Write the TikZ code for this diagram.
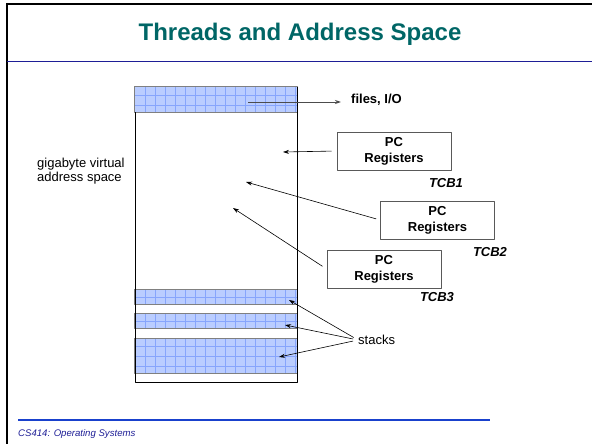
\documentclass[tikz,border=0pt]{standalone}
\usepackage{fontspec}
\setmainfont{Liberation Sans}
\usetikzlibrary{arrows.meta}
\definecolor{titleteal}{RGB}{0,102,102}
\definecolor{bandfill}{RGB}{186,205,255}
\definecolor{bandgrid}{RGB}{135,165,252}
\definecolor{navyline}{RGB}{30,30,150}
\definecolor{footblue}{RGB}{25,65,205}
\begin{document}
\begin{tikzpicture}[x=1pt,y=-1pt,>={Stealth[length=6pt,width=4pt]},line join=round,
    txt/.style={inner sep=0pt,font=\fontsize{13}{14}\selectfont},
    pcbox/.style={draw=black!65,line width=0.8pt,minimum width=114pt,minimum height=38pt,
      align=center,inner sep=0pt,font=\fontsize{13}{16}\selectfont\bfseries},
    tcb/.style={inner sep=0pt,font=\fontsize{13}{15}\selectfont\bfseries\itshape},
    ptr/.style={->,line width=0.6pt}]
    \useasboundingbox (0,0) rectangle (592,444);
    % slide frame
    \draw[line width=2.5pt] (6,4) -- (592,4);
    \draw[line width=2pt] (7,3) -- (7,444);
    \draw[navyline,line width=1pt] (7,62) -- (592,62);
    \node[font=\fontsize{24}{28}\selectfont\bfseries,text=titleteal] (title) at (300,34) {Threads and Address Space};
    % address space with its bands
    \foreach \ya/\yb in {87/112,289/304,313/328,338/373}{
      \begin{scope}
        \clip (135,\ya) rectangle (297,\yb);
        \fill[bandfill] (135,\ya) rectangle (297,\yb);
        \foreach \gx in {145,155,...,295}
          \draw[bandgrid,line width=0.5pt] (\gx,\ya) -- (\gx,\yb);
        \foreach \gy in {8,18,28}
          \draw[bandgrid,line width=0.5pt] (135,\ya+\gy) -- (297,\ya+\gy);
      \end{scope}
      \draw[gray,line width=1pt] (134.5,\ya) rectangle (297,\yb);
    }
    \draw[line width=1pt] (135,112) -- (135,382) -- (297,382) -- (297,87);
    \node[txt,align=left,anchor=north west] (gva) at (37,158) {gigabyte virtual\\address space};
    % files
    \coordinate (fio) at (248,102);
    \node[txt,font=\fontsize{13}{15}\selectfont\bfseries,anchor=west] (files) at (351,100) {files, I/O};
    \draw[ptr,black!70,line width=1pt,shorten >=10pt] (fio) -- (fio -| files.west);
    % thread control blocks
    \node[pcbox] (tcb1) at (394,151) {PC\\Registers};
    \node[tcb] (lab1) at (446,183) {TCB1};
    \node[pcbox] (tcb2) at (437.5,220) {PC\\Registers};
    \node[tcb] (lab2) at (490,252) {TCB2};
    \node[pcbox] (tcb3) at (384,269) {PC\\Registers};
    \node[tcb] (lab3) at (437,297) {TCB3};
    \coordinate (pc1) at (283,152);
    \coordinate (pc2) at (246,182);
    \coordinate (pc3) at (233,208);
    \draw[ptr,shorten <=5pt] (tcb1.west) -- (pc1);
    \draw[ptr,shorten <=4pt] (tcb2.west) -- (pc2);
    \draw[ptr,shorten <=5pt] (tcb3.west) -- (pc3);
    % stacks
    \node[txt,anchor=west] (stk) at (358,340) {stacks};
    \coordinate (st1) at (289,300);
    \coordinate (st2) at (285,325);
    \coordinate (st3) at (279,357);
    \foreach \s in {st1,st2,st3}
      \draw[ptr,shorten <=5pt] (stk.west) -- (\s);
    % footer
    \draw[footblue,line width=1.5pt] (18,420) -- (490,420);
    \node[inner sep=0pt,anchor=base west,text=navyline,font=\fontsize{9.6}{11}\selectfont\itshape] (foot) at (18,436) {CS414: Operating Systems};
\end{tikzpicture}
\end{document}
